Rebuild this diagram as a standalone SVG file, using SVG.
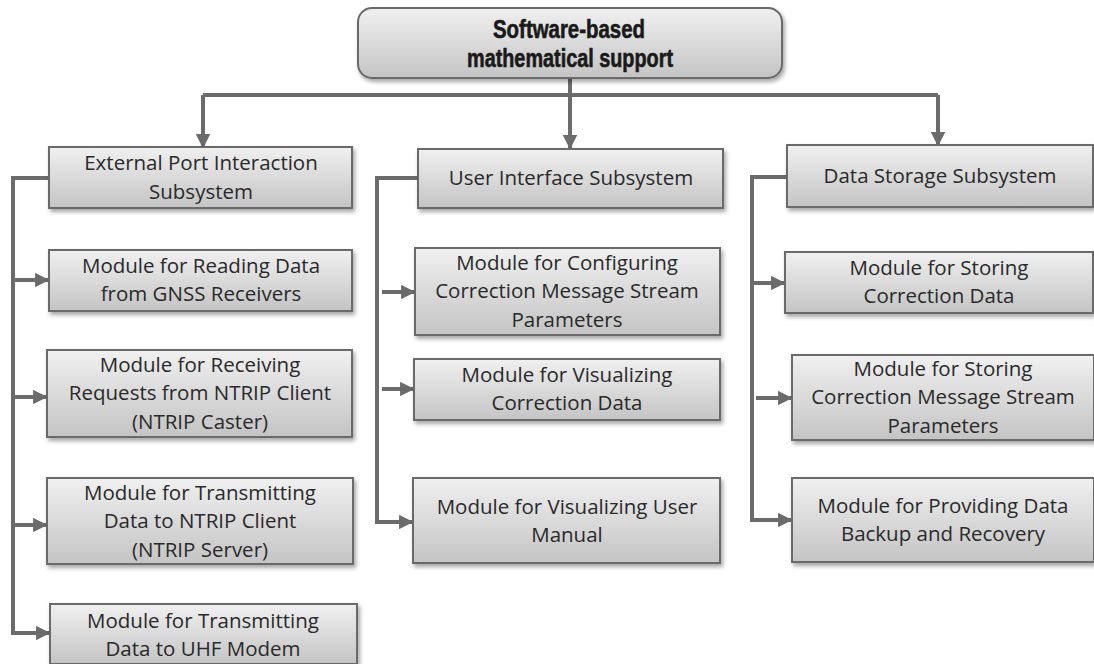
<svg xmlns="http://www.w3.org/2000/svg" width="1094" height="664" viewBox="0 0 1094 664">
<defs>
<linearGradient id="g" x1="0" y1="0" x2="0" y2="1">
<stop offset="0" stop-color="#f0f0f0"/>
<stop offset="1" stop-color="#c4c4c4"/>
</linearGradient>
<filter id="sh" x="-5%" y="-10%" width="115%" height="135%">
<feDropShadow dx="2" dy="3" stdDeviation="2" flood-color="#000" flood-opacity="0.35"/>
</filter>
<marker id="ah" viewBox="0 0 10 10" refX="9" refY="5" markerWidth="3.6" markerHeight="3.6" markerUnits="strokeWidth" orient="auto">
<path d="M0,0 L10,5 L0,10 z" fill="#6b6b6b"/>
</marker>
</defs>
<style>
.b{fill:url(#g);stroke:#6a6a6a;stroke-width:2;filter:url(#sh)}
.t{font-family:"Open Sans","Liberation Sans",sans-serif;font-size:20.5px;fill:#2a2a2a;text-anchor:middle}
.h{font-family:"Liberation Sans Narrow","Liberation Sans",sans-serif;font-weight:bold;font-size:25px;fill:#1a1a1a;stroke:#1a1a1a;stroke-width:0.6;text-anchor:middle}
.c{fill:none;stroke:#6b6b6b;stroke-width:4}
.a{fill:none;stroke:#6b6b6b;stroke-width:4;marker-end:url(#ah)}
</style>
<rect width="1094" height="664" fill="#ffffff"/>
<g id="connectors">
<path class="c" d="M203,95 H938"/>
<path class="a" d="M570,78 V148"/>
<path class="a" d="M203,95 V147"/>
<path class="a" d="M938,95 V145"/>
<path class="c" d="M49,178 H13 V633"/>
<path class="a" d="M11,280 H48"/>
<path class="a" d="M11,397 H46"/>
<path class="a" d="M11,525 H46"/>
<path class="a" d="M11,633 H49"/>
<path class="c" d="M418,178 H377 V522"/>
<path class="a" d="M382,292 H414"/>
<path class="a" d="M382,389 H413"/>
<path class="a" d="M375,522 H412"/>
<path class="c" d="M787,177 H752 V520"/>
<path class="a" d="M750,283 H784"/>
<path class="a" d="M756,398 H791"/>
<path class="a" d="M750,520 H791"/>
</g>
<g id="root">
<rect class="b" x="358" y="8" width="424" height="70" rx="14"/>
<text class="h" x="569" y="38" textLength="152" lengthAdjust="spacingAndGlyphs">Software-based</text>
<text class="h" x="570" y="67" textLength="206" lengthAdjust="spacingAndGlyphs">mathematical support</text>
</g>
<g id="ext-sub">
<rect class="b" x="49" y="147" width="303" height="61"/>
<text class="t" x="201" y="170">External Port Interaction</text>
<text class="t" x="201" y="199">Subsystem</text>
</g>
<g id="mod-reading">
<rect class="b" x="49" y="250" width="303" height="61"/>
<text class="t" x="201" y="273">Module for Reading Data</text>
<text class="t" x="201" y="301">from GNSS Receivers</text>
</g>
<g id="mod-receiving">
<rect class="b" x="47" y="350" width="305" height="87"/>
<text class="t" x="200" y="372">Module for Receiving</text>
<text class="t" x="200" y="400">Requests from NTRIP Client</text>
<text class="t" x="200" y="429">(NTRIP Caster)</text>
</g>
<g id="mod-transmit-ntrip">
<rect class="b" x="47" y="478" width="306" height="86"/>
<text class="t" x="200" y="500">Module for Transmitting</text>
<text class="t" x="200" y="528">Data to NTRIP Client</text>
<text class="t" x="200" y="557">(NTRIP Server)</text>
</g>
<g id="mod-transmit-uhf">
<rect class="b" x="50" y="604" width="307" height="60"/>
<text class="t" x="203" y="628">Module for Transmitting</text>
<text class="t" x="203" y="656">Data to UHF Modem</text>
</g>
<g id="ui-sub">
<rect class="b" x="418" y="149" width="305" height="59"/>
<text class="t" x="571" y="185">User Interface Subsystem</text>
</g>
<g id="mod-config">
<rect class="b" x="415" y="248" width="305" height="87"/>
<text class="t" x="567" y="270">Module for Configuring</text>
<text class="t" x="567" y="298">Correction Message Stream</text>
<text class="t" x="567" y="327">Parameters</text>
</g>
<g id="mod-vis-corr">
<rect class="b" x="414" y="359" width="306" height="61"/>
<text class="t" x="567" y="382">Module for Visualizing</text>
<text class="t" x="567" y="410">Correction Data</text>
</g>
<g id="mod-vis-manual">
<rect class="b" x="413" y="478" width="307" height="85"/>
<text class="t" x="567" y="514">Module for Visualizing User</text>
<text class="t" x="567" y="542">Manual</text>
</g>
<g id="ds-sub">
<rect class="b" x="787" y="145" width="306" height="62"/>
<text class="t" x="940" y="183">Data Storage Subsystem</text>
</g>
<g id="mod-store-corr">
<rect class="b" x="785" y="252" width="308" height="61"/>
<text class="t" x="939" y="275">Module for Storing</text>
<text class="t" x="939" y="303">Correction Data</text>
</g>
<g id="mod-store-stream">
<rect class="b" x="792" y="355" width="302" height="85"/>
<text class="t" x="943" y="376">Module for Storing</text>
<text class="t" x="943" y="404">Correction Message Stream</text>
<text class="t" x="943" y="433">Parameters</text>
</g>
<g id="mod-backup">
<rect class="b" x="792" y="478" width="302" height="84"/>
<text class="t" x="943" y="513">Module for Providing Data</text>
<text class="t" x="943" y="541">Backup and Recovery</text>
</g>
</svg>
